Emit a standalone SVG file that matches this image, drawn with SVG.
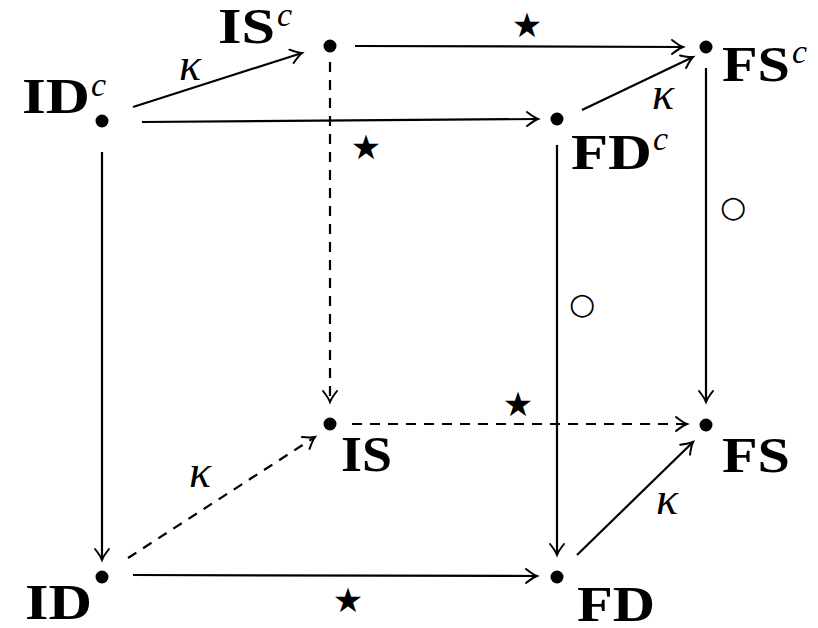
<svg xmlns="http://www.w3.org/2000/svg" width="818" height="628" viewBox="0 0 818 628">
<style>
.bg{fill:#fff}
.dot{fill:#000}
.lbl{font-family:"Liberation Serif",serif;font-weight:bold;fill:#000}
.sup{font-family:"Liberation Serif",serif;font-style:italic;fill:#000}
.edge{stroke:#000;stroke-width:2.2;fill:none}
.dash{stroke-dasharray:10 8}
.kap{font-family:"Liberation Serif",serif;font-style:italic;fill:#000;text-anchor:middle}
.star{font-family:"DejaVu Sans",sans-serif;fill:#000;text-anchor:middle}
.circ{font-family:"DejaVu Sans",sans-serif;fill:#000;text-anchor:middle}
</style>
<defs>
<marker id="ah" markerUnits="userSpaceOnUse" orient="auto" refX="0" refY="0" markerWidth="30" markerHeight="30" viewBox="-15 -15 30 30" overflow="visible">
<path d="M -11 -7 Q -4 -1.5 0 0 Q -4 1.5 -11 7" fill="none" stroke="#000" stroke-width="2" stroke-dasharray="none" stroke-linecap="round"/>
</marker>
</defs>
<rect class="bg" x="0" y="0" width="818" height="628"/>
<g id="connectors">
<line class="edge" x1="133" y1="107" x2="302" y2="53" marker-end="url(#ah)"/>
<line class="edge" x1="142" y1="122" x2="538" y2="119" marker-end="url(#ah)"/>
<line class="edge" x1="355" y1="46" x2="683" y2="47" marker-end="url(#ah)"/>
<line class="edge" x1="582" y1="110" x2="693" y2="57" marker-end="url(#ah)"/>
<line class="edge" x1="102" y1="152" x2="102" y2="560" marker-end="url(#ah)"/>
<line class="edge dash" x1="330" y1="62" x2="330" y2="402" marker-end="url(#ah)"/>
<line class="edge" x1="557" y1="145" x2="557" y2="555" marker-end="url(#ah)"/>
<line class="edge" x1="706" y1="68" x2="706" y2="402" marker-end="url(#ah)"/>
<line class="edge dash" x1="352" y1="424" x2="687" y2="424" marker-end="url(#ah)"/>
<line class="edge dash" x1="128" y1="558" x2="315" y2="437" marker-end="url(#ah)"/>
<line class="edge" x1="133" y1="575" x2="537" y2="576" marker-end="url(#ah)"/>
<line class="edge" x1="577" y1="555" x2="693" y2="442" marker-end="url(#ah)"/>
<text class="kap" font-size="46" x="190" y="80">κ</text>
<text class="star" font-size="34" x="527" y="37">★</text>
<text class="star" font-size="34" x="366" y="159">★</text>
<text class="kap" font-size="46" x="663" y="109">κ</text>
<text class="circ" font-size="30" x="733" y="217">○</text>
<text class="circ" font-size="30" x="582" y="314">○</text>
<text class="star" font-size="34" x="518" y="416">★</text>
<text class="kap" font-size="46" x="200" y="487">κ</text>
<text class="kap" font-size="46" x="667" y="514">κ</text>
<text class="star" font-size="34" x="348" y="612">★</text>
</g>
<g id="ISc">
<circle class="dot" cx="330" cy="46" r="6.5"/>
<text class="lbl" font-size="50" x="218" y="43" textLength="57" lengthAdjust="spacingAndGlyphs">IS</text>
<text class="sup" font-size="34" x="277" y="26">c</text>
</g>
<g id="IDc">
<circle class="dot" cx="102" cy="121" r="6.5"/>
<text class="lbl" font-size="50" x="22" y="113" textLength="68" lengthAdjust="spacingAndGlyphs">ID</text>
<text class="sup" font-size="34" x="91" y="96">c</text>
</g>
<g id="FSc">
<circle class="dot" cx="706" cy="47" r="6.5"/>
<text class="lbl" font-size="50" x="722" y="81" textLength="68" lengthAdjust="spacingAndGlyphs">FS</text>
<text class="sup" font-size="34" x="792" y="63">c</text>
</g>
<g id="FDc">
<circle class="dot" cx="557" cy="119" r="6.5"/>
<text class="lbl" font-size="50" x="571" y="169" textLength="81" lengthAdjust="spacingAndGlyphs">FD</text>
<text class="sup" font-size="34" x="653" y="150">c</text>
</g>
<g id="IS">
<circle class="dot" cx="330" cy="424" r="6.5"/>
<text class="lbl" font-size="50" x="341" y="471" textLength="51" lengthAdjust="spacingAndGlyphs">IS</text>
</g>
<g id="FS">
<circle class="dot" cx="706" cy="425" r="6.5"/>
<text class="lbl" font-size="50" x="722" y="472" textLength="68" lengthAdjust="spacingAndGlyphs">FS</text>
</g>
<g id="ID">
<circle class="dot" cx="102" cy="577" r="6.5"/>
<text class="lbl" font-size="50" x="25" y="619" textLength="67" lengthAdjust="spacingAndGlyphs">ID</text>
</g>
<g id="FD">
<circle class="dot" cx="557" cy="577" r="6.5"/>
<text class="lbl" font-size="50" x="577" y="621" textLength="78" lengthAdjust="spacingAndGlyphs">FD</text>
</g>
</svg>
